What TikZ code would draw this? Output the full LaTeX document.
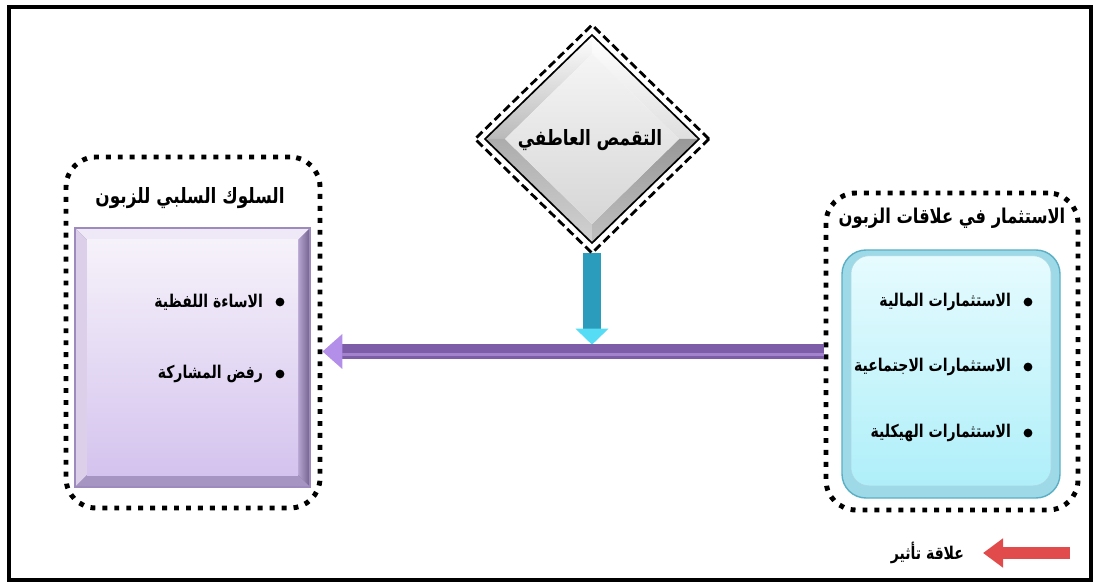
\documentclass[tikz,border=0pt]{standalone}
\usepackage{fontspec}
\newfontfamily\arabicfont[Script=Arabic,FakeStretch=0.8]{DejaVu Sans}
\TeXXeTstate=1
\usetikzlibrary{positioning,shapes.geometric,arrows.meta}

\definecolor{lilacline}{HTML}{9D8BBE}
\definecolor{lilacdark}{HTML}{6F5F8A}
\definecolor{lilacmid}{HTML}{B8A6D2}
\definecolor{lilactop}{HTML}{EFE8F7}
\definecolor{lilacleft}{HTML}{DCCFEA}
\definecolor{lilacbot}{HTML}{A695C2}
\definecolor{lilacface}{HTML}{F6F2FA}
\definecolor{lilacdeep}{HTML}{D4C3EE}
\definecolor{cyanline}{HTML}{5BAFC4}
\definecolor{cyanrim}{HTML}{9ED9E8}
\definecolor{cyantop}{HTML}{E6FBFE}
\definecolor{cyanbot}{HTML}{AFEFF9}
\definecolor{violetarrow}{HTML}{7D5CA8}
\definecolor{violetlight}{HTML}{A383CC}
\definecolor{violethead}{HTML}{B48FEA}
\definecolor{tealarrow}{HTML}{2C9CBD}
\definecolor{cyanhead}{HTML}{56DDF5}
\definecolor{redarrow}{HTML}{E24B4B}

\tikzset{
  arab/.style={font=\arabicfont\bfseries\fontsize{15}{17}\selectfont},
  dotbox/.style={draw,line width=3.5pt,dash pattern=on 3.5pt off 5pt,rounded corners=0.75cm},
  plainbox/.style={inner sep=0pt,outer sep=0pt},
  dot/.style={circle,fill=black,inner sep=0pt,minimum size=0.22cm},
  item/.style={font=\arabicfont\bfseries\fontsize{12.5}{15}\selectfont,anchor=east,inner sep=0pt},
}

\begin{document}
\begin{tikzpicture}[x=1cm,y=1cm]
\useasboundingbox (0,0) rectangle (27.4,14.6);
\draw[line width=0.1cm] (0.225,0.1) rectangle (27.275,14.425);

% negative behaviour group
\node[dotbox,minimum width=6.35cm,minimum height=8.775cm] (neg) at (4.825,6.2875) {};
\node[plainbox,fill=lilacdark,minimum width=5.875cm,minimum height=6.475cm] (negbox) at (4.8125,5.6625) {};
\node[plainbox,minimum width=5.275cm,minimum height=5.875cm] (negface) at (negbox) {};
\fill[lilactop] (negbox.north west) -- (negbox.north east) -- (negface.north east) -- (negface.north west) -- cycle;
\fill[lilacleft] (negbox.north west) -- (negface.north west) -- (negface.south west) -- (negbox.south west) -- cycle;
\shade[left color=lilacmid,right color=lilacdark] (negbox.north east) -- (negbox.south east) -- (negface.south east) -- (negface.north east) -- cycle;
\fill[lilacbot] (negbox.south west) -- (negface.south west) -- (negface.south east) -- (negbox.south east) -- cycle;
\shade[top color=lilacface,bottom color=lilacdeep] (negface.north west) rectangle (negface.south east);
\draw[lilacline,line width=1pt] (negbox.north west) rectangle (negbox.south east);
\node[arab] (negtitle) at (4.75,9.65) {\beginR السلوك السلبي للزبون\endR};
\node[dot] (n1) at (7.0,7.05) {};
\node[item,left=0.3cm of n1] (n1t) {\beginR الاساءة اللفظية\endR};
\node[dot] (n2) at (7.0,5.25) {};
\node[item,left=0.3cm of n2] (n2t) {\beginR رفض المشاركة\endR};

% investment group
\node[dotbox,minimum width=6.3cm,minimum height=7.925cm] (inv) at (23.8,5.8125) {};
\node[plainbox,draw=cyanline,line width=1pt,fill=cyanrim,rounded corners=0.6cm,minimum width=5.45cm,minimum height=6.2cm] (invbox) at (23.775,5.25) {};
\node[plainbox,draw=cyanline!50,rounded corners=0.45cm,top color=cyantop,bottom color=cyanbot,minimum width=5.0cm,minimum height=5.75cm] (invface) at ([yshift=0.08cm]invbox) {};
\node[arab,font=\arabicfont\bfseries\fontsize{14.5}{17}\selectfont] (invtitle) at (23.8,9.15) {\beginR الاستثمار في علاقات الزبون\endR};
\node[dot] (i1) at (25.7,7.05) {};
\node[item,left=0.3cm of i1] (i1t) {\beginR الاستثمارات المالية\endR};
\node[dot] (i2) at (25.7,5.425) {};
\node[item,left=0.3cm of i2] (i2t) {\beginR الاستثمارات الاجتماعية\endR};
\node[dot] (i3) at (25.7,3.775) {};
\node[item,left=0.3cm of i3] (i3t) {\beginR الاستثمارات الهيكلية\endR};

% empathy diamond
\node[diamond,plainbox,minimum width=5.85cm,minimum height=5.7cm] (emp) at (14.8,11.125) {};
\coordinate (meet) at ([yshift=0.17cm]emp.south |- inv.west);
\draw[line width=0.45cm,tealarrow,-{Triangle[width=0.8cm,length=0.4cm,color=cyanhead]}] (emp.south) -- (meet);
\node[diamond,plainbox,fill=white,draw,line width=2pt,dash pattern=on 6pt off 3pt,minimum width=5.85cm,minimum height=5.7cm] at (emp) {};
\node[diamond,plainbox,minimum width=5.35cm,minimum height=5.2cm] (empb) at (emp) {};
\node[diamond,plainbox,minimum width=4.35cm,minimum height=4.25cm] (empf) at (emp) {};
\shade[top color=white,bottom color=gray!55] (empb.north) -- (empb.west) -- (empf.west) -- (empf.north) -- cycle;
\shade[top color=white,bottom color=gray!25] (empb.north) -- (empb.east) -- (empf.east) -- (empf.north) -- cycle;
\shade[top color=gray!65,bottom color=gray!35] (empb.west) -- (empb.south) -- (empf.south) -- (empf.west) -- cycle;
\shade[top color=gray!80,bottom color=gray!50] (empb.east) -- (empb.south) -- (empf.south) -- (empf.east) -- cycle;
\shade[top color=gray!8,bottom color=gray!32] (empf.north) -- (empf.east) -- (empf.south) -- (empf.west) -- cycle;
\draw[line width=1.2pt] (empb.north) -- (empb.east) -- (empb.south) -- (empb.west) -- cycle;
\node[arab] (emptitle) at (14.75,11.1) {\beginR التقمص العاطفي\endR};

% influence arrow
\draw[line width=0.37cm,violetarrow,-{Triangle[width=0.85cm,length=0.5cm,color=violethead]}] (inv.west) -- (inv.west -| neg.east);
\draw[line width=0.07cm,violetlight,shorten >=0.5cm] ([yshift=-0.08cm]inv.west) -- ([yshift=-0.08cm]inv.west -| neg.east);

% legend
\coordinate (legtail) at (26.75,0.775);
\coordinate (leghead) at (24.575,0.775);
\draw[line width=0.3cm,redarrow,-{Triangle[width=0.7cm,length=0.5cm]}] (legtail) -- (leghead);
\node[font=\arabicfont\bfseries\fontsize{12.5}{15}\selectfont,anchor=east] (legtext) at ([xshift=-0.35cm]leghead) {\beginR علاقة تأثير\endR};
\end{tikzpicture}
\end{document}
